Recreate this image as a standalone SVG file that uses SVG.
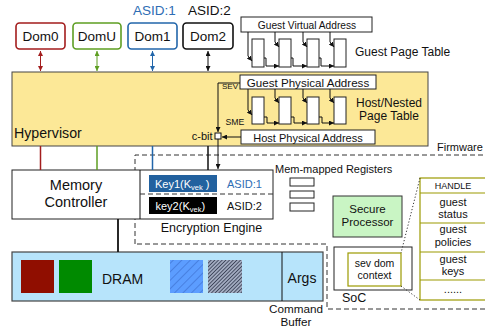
<svg xmlns="http://www.w3.org/2000/svg" width="485" height="327" viewBox="0 0 485 327">
<defs>
<style>
text{font-family:"Liberation Sans",Arial,sans-serif;fill:#111}
.dom{fill:#fff;stroke-width:1.6}
.box{fill:#fff;stroke:#222;stroke-width:1}
.pt{fill:#fff;stroke:#222;stroke-width:1}
.ln{fill:none;stroke:#111;stroke-width:1}
.dash{fill:none;stroke:#333;stroke-width:1;stroke-dasharray:5,3}
.dot{fill:none;stroke:#333;stroke-width:1;stroke-dasharray:1.2,2}
.ol{stroke:#9c9a00;stroke-width:1.2;fill:none}
.c{text-anchor:middle}
</style>
<marker id="ah" viewBox="0 0 10 10" refX="10" refY="5" markerWidth="5" markerHeight="5" orient="auto-start-reverse"><path d="M0,0 L10,5 L0,10 z" fill="#111"/></marker>
<marker id="ahr" viewBox="0 0 10 10" refX="10" refY="5" markerWidth="5" markerHeight="5" orient="auto-start-reverse"><path d="M0,0 L10,5 L0,10 z" fill="#a31d1d"/></marker>
<marker id="ahg" viewBox="0 0 10 10" refX="10" refY="5" markerWidth="5" markerHeight="5" orient="auto-start-reverse"><path d="M0,0 L10,5 L0,10 z" fill="#5e9e22"/></marker>
<marker id="ahb" viewBox="0 0 10 10" refX="10" refY="5" markerWidth="5" markerHeight="5" orient="auto-start-reverse"><path d="M0,0 L10,5 L0,10 z" fill="#2266aa"/></marker>
<pattern id="hb" patternUnits="userSpaceOnUse" width="6" height="6" patternTransform="rotate(45)"><rect width="6" height="6" fill="#5c9dff"/><line x1="0" y1="0" x2="0" y2="6" stroke="#3a6ccc" stroke-width="1.2"/></pattern>
<pattern id="hd" patternUnits="userSpaceOnUse" width="2.6" height="2.6" patternTransform="rotate(45)"><rect width="2.6" height="2.6" fill="#a2abc0"/><line x1="0" y1="0" x2="0" y2="2.6" stroke="#252d42" stroke-width="1.4"/></pattern>
</defs>

<g id="firmware">
<path class="dash" d="M135,244 V155 H485 M485,309 H327 V244 H135"/>
<text x="437" y="151" font-size="11">Firmware</text>
</g>

<g id="hypervisor">
<rect x="12" y="72" width="416" height="74" fill="#fce897" stroke="#444" stroke-width="1"/>
<text x="14" y="138" font-size="14.2">Hypervisor</text>
</g>

<g id="dom0"><rect class="dom" x="16" y="23" width="49" height="26" rx="3.5" stroke="#a31d1d"/><text class="c" x="40.5" y="40.5" font-size="13.5">Dom0</text></g>
<g id="domU"><rect class="dom" x="73" y="23" width="48" height="26" rx="3.5" stroke="#5e9e22"/><text class="c" x="97" y="40.5" font-size="13.5">DomU</text></g>
<g id="dom1"><rect class="dom" x="128" y="23" width="49" height="26" rx="3.5" stroke="#2266aa"/><text class="c" x="152.5" y="40.5" font-size="13.5">Dom1</text></g>
<g id="dom2"><rect class="dom" x="183" y="23" width="50" height="26" rx="3.5" stroke="#111"/><text class="c" x="208" y="40.5" font-size="13.5">Dom2</text></g>
<text x="133" y="15" font-size="13.5" style="fill:#2e6db4">ASID:1</text>
<text x="188" y="15" font-size="13.5">ASID:2</text>

<g id="gva"><rect class="box" x="241" y="17" width="131" height="15"/><text class="c" x="307" y="28.5" font-size="10.2">Guest Virtual Address</text></g>
<g id="guest-pt">
<rect class="pt" x="252" y="39" width="12" height="28"/>
<rect class="pt" x="279" y="39" width="12" height="28"/>
<rect class="pt" x="307" y="39" width="12" height="28"/>
<rect class="pt" x="334" y="39" width="12" height="28"/>
<text x="355" y="56" font-size="12">Guest Page Table</text>
</g>
<g id="gpa"><rect class="box" x="240" y="75" width="136" height="14"/><text class="c" x="308" y="86.5" font-size="11.6">Guest Physical Address</text></g>
<g id="host-pt">
<rect class="pt" x="252" y="97" width="12" height="27"/>
<rect class="pt" x="279" y="97" width="12" height="27"/>
<rect class="pt" x="307" y="97" width="12" height="27"/>
<rect class="pt" x="334" y="97" width="12" height="27"/>
<text class="c" x="389" y="107" font-size="12">Host/Nested</text>
<text class="c" x="389" y="120" font-size="12">Page Table</text>
</g>
<g id="hpa"><rect class="box" x="241" y="130" width="134" height="14"/><text class="c" x="308" y="141.5" font-size="11">Host Physical Address</text></g>
<g id="cbit"><rect x="215" y="133" width="6" height="6" fill="#fff" stroke="#111" stroke-width="1"/><text x="212.5" y="140" font-size="11" text-anchor="end">c-bit</text></g>
<text x="222" y="89" font-size="8">SEV</text>
<text x="225.5" y="125" font-size="8.7">SME</text>

<g id="memctrl">
<rect class="box" x="12" y="170" width="261" height="49"/>
<line class="ln" x1="140" y1="170" x2="140" y2="219"/>
<line class="dash" x1="140" y1="194" x2="273" y2="194"/>
<text class="c" x="76" y="190" font-size="14.5">Memory</text>
<text class="c" x="76" y="207" font-size="14.5">Controller</text>
</g>
<g id="key1"><rect x="149" y="175" width="68" height="17" fill="#22619f"/><text x="155" y="187.5" font-size="11" style="fill:#fff">Key1(K<tspan font-size="7.5" dy="2">vek</tspan><tspan dy="-2"> )</tspan></text><text x="227" y="187.5" font-size="11" style="fill:#2e6db4">ASID:1</text></g>
<g id="key2"><rect x="149" y="197" width="68" height="17" fill="#000"/><text x="155.5" y="209.5" font-size="11" style="fill:#fff">key2(K<tspan font-size="7.5" dy="2">vek</tspan><tspan dy="-2">)</tspan></text><text x="227" y="209.5" font-size="11">ASID:2</text></g>
<text class="c" x="211.5" y="231.5" font-size="12.5">Encryption Engine</text>

<g id="regs">
<text x="275" y="173" font-size="11">Mem-mapped Registers</text>
<rect class="box" x="290" y="178" width="24" height="8"/>
<rect class="box" x="290" y="191" width="24" height="7"/>
<rect class="box" x="290" y="203" width="24" height="8"/>
</g>
<g id="secure-processor"><rect x="333" y="196" width="69" height="41" fill="#c9f5c4" stroke="#333" stroke-width="1"/><text class="c" x="367.5" y="213" font-size="11.5">Secure</text><text class="c" x="367.5" y="226" font-size="11.5">Processor</text></g>

<g id="soc"><rect class="box" x="334" y="247" width="78" height="43"/><text x="342" y="302" font-size="12.5">SoC</text>
<rect x="348" y="253" width="53" height="33" fill="#fff" stroke="#9c9a00" stroke-width="1.2"/>
<text class="c" x="374.5" y="267" font-size="10.5">sev dom</text><text class="c" x="374.5" y="278.5" font-size="10.5">context</text></g>

<g id="handle-table">
<rect x="420" y="178" width="68" height="122" fill="#fff" class="ol"/>
<path class="ol" d="M420,193 H488 M420,223 H488 M420,252 H488 M420,280 H488"/>
<text class="c" x="453" y="189" font-size="9">HANDLE</text>
<text class="c" x="453" y="206" font-size="11">guest</text><text class="c" x="453" y="218" font-size="11">status</text>
<text class="c" x="453" y="233" font-size="11">guest</text><text class="c" x="453" y="246" font-size="11">policies</text>
<text class="c" x="453" y="263" font-size="11">guest</text><text class="c" x="453" y="275" font-size="11">keys</text>
<text class="c" x="453" y="293" font-size="11">......</text>
</g>

<g id="dram">
<rect x="12" y="252" width="311" height="49" fill="#b7e4fb" stroke="#444" stroke-width="1.2"/>
<line class="ln" x1="282" y1="252" x2="282" y2="301" stroke="#333"/>
<rect x="21" y="260" width="33" height="33" fill="#900e00"/>
<rect x="59" y="260" width="33" height="33" fill="#008a00"/>
<rect x="170" y="260" width="33" height="33" fill="url(#hb)"/>
<rect x="208" y="260" width="34" height="33" fill="url(#hd)"/>
<text x="102" y="284" font-size="14">DRAM</text>
<text class="c" x="302" y="283" font-size="14">Args</text>
<text class="c" x="296" y="313" font-size="11.7">Command</text>
<text class="c" x="296" y="326" font-size="11.7">Buffer</text>
</g>

<g id="connectors">
<line x1="40.5" y1="51" x2="40.5" y2="71" stroke="#a31d1d" stroke-width="1" marker-start="url(#ahr)" marker-end="url(#ahr)"/>
<line x1="97" y1="51" x2="97" y2="71" stroke="#5e9e22" stroke-width="1" marker-start="url(#ahg)" marker-end="url(#ahg)"/>
<line x1="152.5" y1="51" x2="152.5" y2="71" stroke="#2266aa" stroke-width="1" marker-start="url(#ahb)" marker-end="url(#ahb)"/>
<line x1="208" y1="51" x2="208" y2="71" stroke="#111" stroke-width="1" marker-start="url(#ah)" marker-end="url(#ah)"/>
<line x1="40.5" y1="146" x2="40.5" y2="170" stroke="#a31d1d" stroke-width="1.5"/>
<line x1="97" y1="146" x2="97" y2="170" stroke="#5e9e22" stroke-width="1.5"/>
<line x1="152.5" y1="146" x2="152.5" y2="170" stroke="#2266aa" stroke-width="1.5"/>
<line x1="208" y1="146" x2="208" y2="170" stroke="#111" stroke-width="1.5"/>
<line x1="118" y1="219" x2="118" y2="252" stroke="#111" stroke-width="1.8"/>
<path class="ln" d="M248,32 V56 L252,61" marker-end="url(#ah)"/>
<path class="ln" d="M275,32 V42 L279,47" marker-end="url(#ah)"/>
<path class="ln" d="M303,32 V42 L307,47" marker-end="url(#ah)"/>
<path class="ln" d="M330,32 V42 L334,47" marker-end="url(#ah)"/>
<path class="ln" d="M264,58 H266 V66 H279" marker-end="url(#ah)"/>
<path class="ln" d="M291,58 H293 V66 H307" marker-end="url(#ah)"/>
<path class="ln" d="M319,58 H321 V66 H334" marker-end="url(#ah)"/>
<path class="ln" d="M248,89 V110 L252,115" marker-end="url(#ah)"/>
<path class="ln" d="M275,89 V98 L279,103" marker-end="url(#ah)"/>
<path class="ln" d="M303,89 V98 L307,103" marker-end="url(#ah)"/>
<path class="ln" d="M330,89 V98 L334,103" marker-end="url(#ah)"/>
<path class="ln" d="M264,117 H267 V123 H279" marker-end="url(#ah)"/>
<path class="ln" d="M291,117 H294 V123 H307" marker-end="url(#ah)"/>
<path class="ln" d="M319,117 H322 V123 H334" marker-end="url(#ah)"/>
<path class="ln" d="M240,83 H218 V132" marker-end="url(#ah)"/>
<line class="ln" x1="241" y1="137" x2="222" y2="137" marker-end="url(#ah)"/>
<line class="ln" x1="218" y1="139" x2="218" y2="169" marker-end="url(#ah)"/>
<path class="dot" d="M420,178 L401,253 M401,286 L420,300"/>
</g>
</svg>
